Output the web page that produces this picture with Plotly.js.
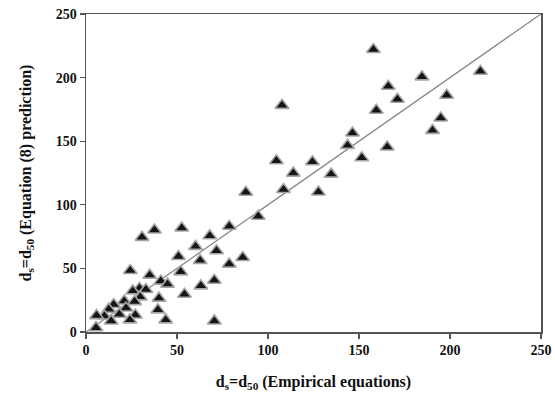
<!DOCTYPE html>
<html>
<head>
<meta charset="utf-8">
<script src="https://cdn.plot.ly/plotly-3.0.1.min.js"></script>
<style>html,body{margin:0;padding:0;background:#fff;}#chart{width:555px;height:396px;}</style>
</head>
<body>
<div id="chart"></div>
<script>
const empirical = [157.9,216.7,184.6,166.1,198.2,171.1,107.7,159.5,194.9,190.4,146.4,143.7,165.5,151.5,104.6,124.4,113.9,134.7,108.5,87.8,127.7,94.6,78.7,52.6,37.6,30.8,68.0,60.2,71.7,50.8,86.1,62.7,78.7,24.3,52.0,35.0,70.5,41.1,44.8,63.1,29.4,32.9,25.7,54.1,29.8,40.1,21.0,26.7,15.2,22.0,39.5,12.5,18.3,27.1,10.1,5.8,13.8,24.1,43.8,70.5,5.5];
const predicted = [222.1,205.0,200.6,193.2,186.1,183.0,178.2,174.3,168.2,158.5,156.4,146.7,145.4,137.0,134.6,133.8,124.9,124.1,112.0,109.9,110.1,91.0,83.1,81.8,80.2,74.4,75.7,67.3,63.9,59.4,58.6,56.3,53.4,48.4,47.3,44.7,40.7,40.0,37.6,36.3,34.4,33.4,32.3,29.7,27.6,26.6,24.4,23.9,21.6,18.9,17.4,17.9,13.9,13.4,12.6,12.9,8.7,9.5,9.5,8.7,3.4];
const lineX = [0, 250];
const lineY = [0, 250];
const xTicks = [0, 50, 100, 150, 200, 250];
const yTicks = [0, 50, 100, 150, 200, 250];

const font = {family: '"Liberation Serif", "Times New Roman", serif', color: '#111'};

const traces = [
  {x: lineX, y: lineY, mode: 'lines', line: {color: '#8a8a8a', width: 1.3}, hoverinfo: 'skip'},
  {x: empirical, y: predicted, mode: 'markers',
   marker: {symbol: 'triangle-up', size: 12, color: '#151515', line: {color: '#a5a5a5', width: 1.6}}}
];

const axisBase = {
  range: [0, 250], showgrid: false, zeroline: false, showline: true, mirror: true,
  linecolor: '#555', linewidth: 1.5, ticks: 'outside', ticklen: 5, tickwidth: 1.3, tickcolor: '#555',
  tickfont: Object.assign({size: 14, weight: 'bold'}, font)
};

const layout = {
  width: 555, height: 396,
  margin: {l: 86, r: 14, t: 14, b: 64},
  showlegend: false,
  paper_bgcolor: '#fff', plot_bgcolor: '#fff',
  xaxis: Object.assign({}, axisBase, {tickvals: xTicks, ticktext: xTicks.map(String),
    title: {text: 'd<sub>s</sub>=d<sub>50</sub> (Empirical equations)', font: Object.assign({size: 16, weight: 'bold'}, font), standoff: 18}}),
  yaxis: Object.assign({}, axisBase, {tickvals: yTicks, ticktext: yTicks.map(String),
    title: {text: 'd<sub>s</sub>=d<sub>50</sub> (Equation (8) prediction)', font: Object.assign({size: 16, weight: 'bold'}, font), standoff: 20}})
};

Plotly.newPlot('chart', traces, layout, {displayModeBar: false, staticPlot: true});
</script>
</body>
</html>
